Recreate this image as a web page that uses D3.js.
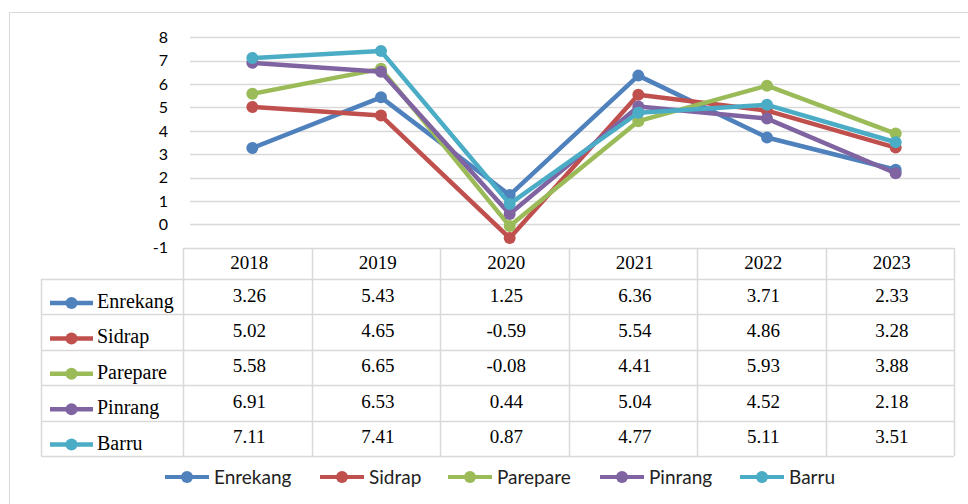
<!DOCTYPE html>
<html lang="en">

<head>
    <meta charset="UTF-8">
    <title>Pertumbuhan Ekonomi</title>
    <style>
        body,
        html {
            margin: 0;
            padding: 0;
            width: 100%;
            height: 100%;
            overflow: hidden;
            background: #fff;
        }

        svg {
            display: block;
        }

        .tick-label {
            font-family: Lato, "Open Sans", sans-serif;
            font-size: 16px;
            fill: #000;
        }

        .cell {
            font-family: "Liberation Serif", "Times New Roman", serif;
            font-size: 19px;
            font-weight: normal;
            fill: #000;
        }

        .legend-label {
            font-family: Lato, "Open Sans", sans-serif;
            font-size: 19px;
            fill: #222;
        }
    </style>
</head>

<body>
    <svg></svg>

    <script src="https://d3js.org/d3.v7.min.js"></script>
    <script>
        const years = ["2018", "2019", "2020", "2021", "2022", "2023"];
        const regions = ["Enrekang", "Sidrap", "Parepare", "Pinrang", "Barru"];
        const enrekang = [3.26, 5.43, 1.25, 6.36, 3.71, 2.33];
        const sidrap = [5.02, 4.65, -0.59, 5.54, 4.86, 3.28];
        const parepare = [5.58, 6.65, -0.08, 4.41, 5.93, 3.88];
        const pinrang = [6.91, 6.53, 0.44, 5.04, 4.52, 2.18];
        const barru = [7.11, 7.41, 0.87, 4.77, 5.11, 3.51];
        const colors = ["#4F81BD", "#C0504D", "#9BBB59", "#8064A2", "#4BACC6"];
        const yTicks = [-1, 0, 1, 2, 3, 4, 5, 6, 7, 8];

        const values = [enrekang, sidrap, parepare, pinrang, barru];
        const series = regions.map((name, i) => ({ name, color: colors[i], values: values[i] }));

        const width = 968, height = 504;
        const gridColor = "#d9d9d9";

        const svg = d3.select("svg")
            .attr("width", width)
            .attr("height", height);

        // outer chart border (runs off the right and bottom edge)
        svg.append("rect")
            .attr("x", 9.5).attr("y", 12.5)
            .attr("width", 1000).attr("height", 600)
            .attr("fill", "none")
            .attr("stroke", gridColor);

        // scales: plot area and data table are slightly offset from each other
        const x = d3.scaleBand().domain(years).range([188, 960]);
        const xTable = d3.scaleBand().domain(years).range([183, 954]);
        const y = d3.scaleLinear().domain([-1, 8]).range([247.6, 37.3]);

        // gridlines
        svg.append("g")
            .selectAll("line")
            .data(yTicks.filter(d => d > -1))
            .enter().append("line")
            .attr("x1", 190).attr("x2", 960)
            .attr("y1", d => Math.round(y(d)) + 0.5)
            .attr("y2", d => Math.round(y(d)) + 0.5)
            .attr("stroke", gridColor)
            .attr("stroke-width", 1.5);

        // y tick labels
        svg.append("g")
            .selectAll("text")
            .data(yTicks)
            .enter().append("text")
            .attr("class", "tick-label")
            .attr("x", 168)
            .attr("y", d => y(d))
            .attr("dy", "0.36em")
            .attr("text-anchor", "end")
            .text(d => d);

        // lines + markers
        const line = d3.line()
            .x((d, i) => x(years[i]) + x.bandwidth() / 2)
            .y(d => y(d));

        const seriesG = svg.append("g")
            .selectAll("g")
            .data(series)
            .enter().append("g");

        seriesG.append("path")
            .attr("d", d => line(d.values))
            .attr("fill", "none")
            .attr("stroke", d => d.color)
            .attr("stroke-width", 4.5)
            .attr("stroke-linejoin", "round");

        seriesG.selectAll("circle")
            .data(d => d.values.map((v, i) => ({ v, i, color: d.color })))
            .enter().append("circle")
            .attr("cx", d => x(years[d.i]) + x.bandwidth() / 2)
            .attr("cy", d => y(d.v))
            .attr("r", 6)
            .attr("fill", d => d.color);

        // data table
        const tableTop = 248, headerH = 31, rowH = 35.4, labelLeft = 41;
        const tableLeft = xTable.range()[0], tableRight = xTable.range()[1];
        const rowY = i => tableTop + headerH + i * rowH;
        const tableBottom = rowY(regions.length);
        const table = svg.append("g");

        // horizontal rules
        table.append("line")
            .attr("x1", tableLeft).attr("x2", tableRight)
            .attr("y1", tableTop + 0.5).attr("y2", tableTop + 0.5)
            .attr("stroke", gridColor).attr("stroke-width", 1.5);
        table.selectAll(".hrule")
            .data(d3.range(regions.length + 1))
            .enter().append("line")
            .attr("x1", labelLeft).attr("x2", tableRight)
            .attr("y1", i => Math.round(rowY(i)) + 0.5)
            .attr("y2", i => Math.round(rowY(i)) + 0.5)
            .attr("stroke", gridColor).attr("stroke-width", 1.5);

        // vertical rules
        table.append("line")
            .attr("x1", labelLeft + 0.5).attr("x2", labelLeft + 0.5)
            .attr("y1", rowY(0)).attr("y2", tableBottom)
            .attr("stroke", gridColor).attr("stroke-width", 1.5);
        table.selectAll(".vrule")
            .data(years.concat(["end"]))
            .enter().append("line")
            .attr("x1", d => Math.round(d === "end" ? tableRight : xTable(d)) + 0.5)
            .attr("x2", d => Math.round(d === "end" ? tableRight : xTable(d)) + 0.5)
            .attr("y1", tableTop).attr("y2", tableBottom)
            .attr("stroke", gridColor).attr("stroke-width", 1.5);

        // header years
        table.selectAll(".year")
            .data(years)
            .enter().append("text")
            .attr("class", "cell")
            .attr("x", d => xTable(d) + xTable.bandwidth() / 2 + 2)
            .attr("y", tableTop + 21)
            .attr("text-anchor", "middle")
            .text(d => d);

        // rows
        const rows = table.selectAll(".row")
            .data(series)
            .enter().append("g")
            .attr("transform", (d, i) => `translate(0, ${rowY(i)})`);

        rows.append("line")
            .attr("x1", 50).attr("x2", 93)
            .attr("y1", 24).attr("y2", 24)
            .attr("stroke", d => d.color)
            .attr("stroke-width", 4.5);
        rows.append("circle")
            .attr("cx", 71.5).attr("cy", 24).attr("r", 6)
            .attr("fill", d => d.color);
        rows.append("text")
            .attr("class", "cell")
            .attr("x", 97)
            .attr("y", 29)
            .attr("font-family", "'Liberation Serif', serif")
            .style("font-size", "20px")
            .text(d => d.name);

        rows.selectAll(".val")
            .data(d => d.values)
            .enter().append("text")
            .attr("class", "cell")
            .attr("x", (v, i) => xTable(years[i]) + xTable.bandwidth() / 2 + 2)
            .attr("y", 22.5)
            .attr("text-anchor", "middle")
            .text(v => v.toFixed(2));

        // bottom legend
        const legendX = [165, 320, 448, 600, 740];
        const legend = svg.append("g")
            .selectAll("g")
            .data(series)
            .enter().append("g")
            .attr("transform", (d, i) => `translate(${legendX[i]}, 477)`);

        legend.append("line")
            .attr("x1", 0).attr("x2", 44)
            .attr("stroke", d => d.color)
            .attr("stroke-width", 4);
        legend.append("circle")
            .attr("cx", 22).attr("r", 6)
            .attr("fill", d => d.color);
        legend.append("text")
            .attr("class", "legend-label")
            .attr("x", 49)
            .attr("dy", "0.36em")
            .text(d => d.name);
    </script>
</body>

</html>
